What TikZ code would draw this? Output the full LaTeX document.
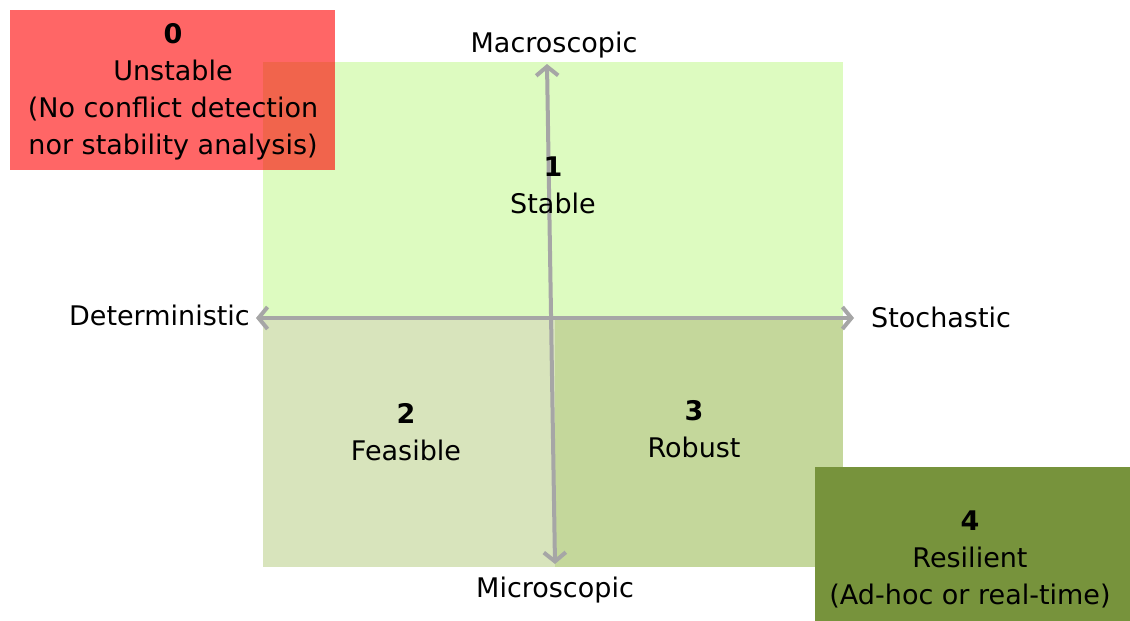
\documentclass[tikz,border=0pt]{standalone}
\usepackage{fontspec}
\setmainfont{DejaVu Sans}
\usetikzlibrary{arrows.meta}
\definecolor{lgreen}{HTML}{DDFBC0}
\definecolor{blgreen}{HTML}{D8E4BC}
\definecolor{brgreen}{HTML}{C4D79B}
\definecolor{olive4}{HTML}{77933C}
\definecolor{axisgray}{HTML}{A6A6A6}
\tikzset{
  txt/.style={font=\fontsize{27}{37}\selectfont, align=center, inner sep=0pt},
  axis/.style={draw=axisgray, line width=4pt, {Straight Barb[length=9pt,width=22pt,line width=4pt]}-{Straight Barb[length=9pt,width=22pt,line width=4pt]}},
  quad/.style={draw=none}
}
\begin{document}
\begin{tikzpicture}[x=1pt,y=-1pt]
\useasboundingbox (0,0) rectangle (1130,621);
\fill[white] (0,0) rectangle (1130,621);
% quadrants
\fill[lgreen] (263,62) rectangle (843,318);
\fill[blgreen] (263,318) rectangle (555,567);
\fill[brgreen] (555,318) rectangle (843,567);
% red box
\fill[red, fill opacity=0.6] (10,10) rectangle (335,170);
% olive box
\fill[olive4] (815,467) rectangle (1130,621);
% axes
\coordinate (top) at (547,64);
\coordinate (bot) at (555,564);
\coordinate (lft) at (256,318);
\coordinate (rgt) at (854,318);
\draw[axis] (lft) -- (rgt);
\draw[axis] (bot) -- (top);
% axis labels
\node[txt] (macro) at (554,45) {Macroscopic};
\node[txt] (micro) at (555,590) {Microscopic};
\node[txt, anchor=east] (det) at (250,315) {Deterministic};
\node[txt, anchor=west] (sto) at (871,317) {Stochastic};
% labels
\node[txt] (l0) at (173,92) {\textbf{0}\\Unstable\\(No conflict detection\\nor stability analysis)};
\node[txt] (l1) at (553,185) {\textbf{1}\\Stable};
\node[txt] (l2) at (406,432) {\textbf{2}\\Feasible};
\node[txt] (l3) at (694,429) {\textbf{3}\\Robust};
\node[txt] (l4) at (970,559) {\textbf{4}\\Resilient\\(Ad-hoc or real-time)};
\end{tikzpicture}
\end{document}
